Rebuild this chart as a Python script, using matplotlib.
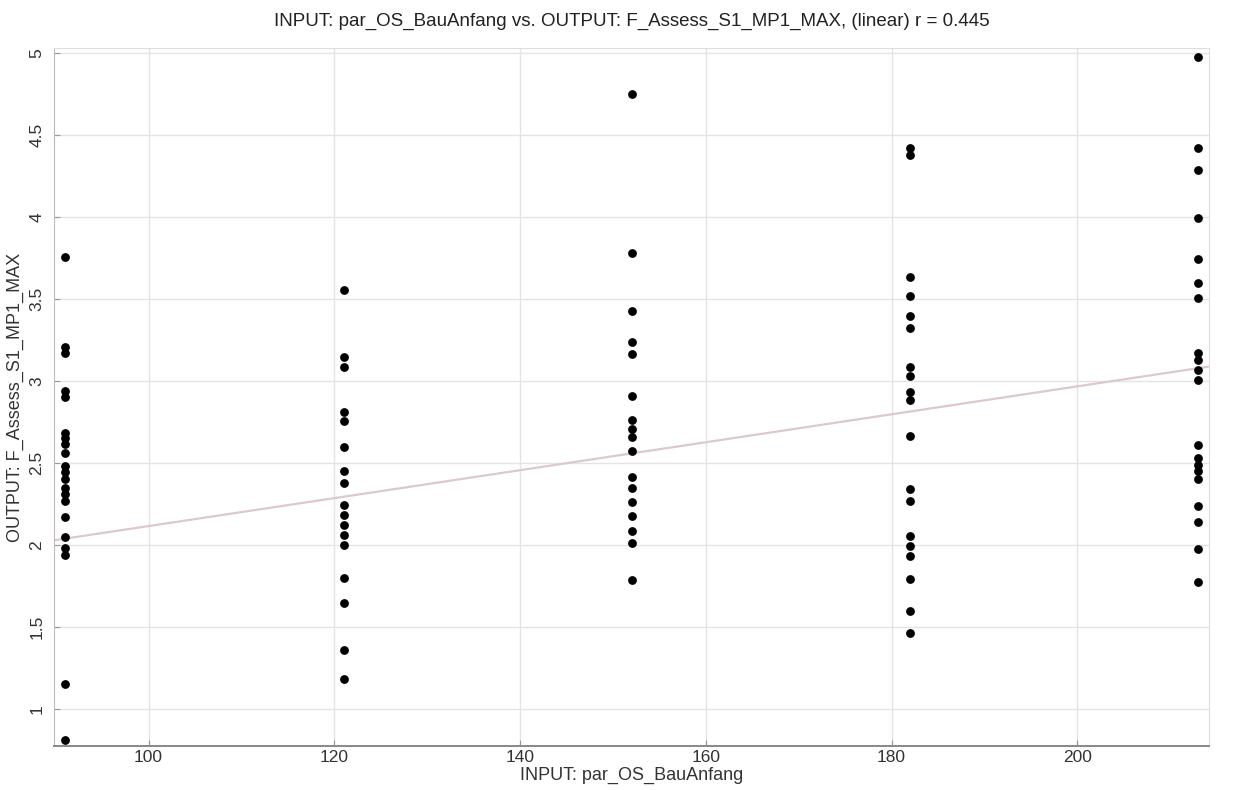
import matplotlib
matplotlib.use("Agg")
import matplotlib.pyplot as plt
import numpy as np

plt.rcParams['font.family'] = ['Liberation Sans', 'DejaVu Sans']

# Input values (day of year of construction start) and the output samples at each
bau_anfang = [91, 121, 152, 182, 213]
output_by_start = [
    [3.756, 3.207, 3.171, 2.939, 2.902, 2.683, 2.652, 2.616, 2.561, 2.482,
     2.445, 2.402, 2.348, 2.311, 2.268, 2.171, 2.049, 1.982, 1.939, 1.15, 0.81],
    [3.553, 3.148, 3.086, 2.809, 2.758, 2.598, 2.451, 2.375, 2.246, 2.184,
     2.123, 2.061, 2.000, 1.799, 1.648, 1.361, 1.180],
    [4.748, 3.782, 3.426, 3.235, 3.167, 2.906, 2.763, 2.710, 2.657, 2.572,
     2.413, 2.349, 2.264, 2.179, 2.084, 2.010, 1.787],
    [4.420, 4.380, 3.636, 3.517, 3.395, 3.322, 3.086, 3.029, 2.935, 2.883,
     2.667, 2.339, 2.270, 2.056, 1.994, 1.931, 1.795, 1.596, 1.460],
    [4.976, 4.420, 4.287, 3.994, 3.744, 3.598, 3.506, 3.171, 3.128, 3.067,
     3.006, 2.610, 2.530, 2.490, 2.450, 2.400, 2.238, 2.140, 1.976, 1.774],
]

# Linear fit coefficients and correlation shown in the title
fit_slope = 0.00852
fit_intercept = 1.263
r_value = 0.445

x_ticks = [100, 120, 140, 160, 180, 200]
y_ticks = [1, 1.5, 2, 2.5, 3, 3.5, 4, 4.5, 5]
y_tick_labels = ['1', '1.5', '2', '2.5', '3', '3.5', '4', '4.5', '5']

fig = plt.figure(figsize=(12.38, 7.90), dpi=100)
ax = fig.add_axes([0.0436, 0.0557, 0.933, 0.8835])

xs, ys = [], []
for xv, vals in zip(bau_anfang, output_by_start):
    xs.extend([xv] * len(vals))
    ys.extend(vals)

ax.scatter(xs, ys, s=40, color='black', zorder=3, linewidths=0)

xlim = (89.82, 214.18)
ax.set_xlim(*xlim)
ax.set_ylim(0.774, 5.03)

line_x = np.array(xlim)
ax.plot(line_x, fit_intercept + fit_slope * line_x, color='#dcc9cc', lw=1.6, zorder=2)

ax.set_xticks(x_ticks)
ax.set_xticklabels([str(t) for t in x_ticks], fontsize=12.5, color='#333333')
ax.set_yticks(y_ticks)
ax.set_yticklabels(y_tick_labels, fontsize=12.5, rotation=90, va='center', color='#333333')

ax.grid(True, color='#e4e4e4', lw=1.0, zorder=0)
ax.set_axisbelow(True)
ax.tick_params(direction='in', length=4, color='#999999')
ax.tick_params(axis='x', pad=3)
ax.tick_params(axis='y', pad=7)

for side in ['top', 'right']:
    ax.spines[side].set_color('#dddddd')
ax.spines['left'].set_color('#bbbbbb')
ax.spines['bottom'].set_color('#888888')
ax.spines['bottom'].set_linewidth(1.4)

ax.set_title(f'INPUT: par_OS_BauAnfang vs. OUTPUT: F_Assess_S1_MP1_MAX, (linear) r = {r_value:.3f}',
             fontsize=13.5, color='#222222', pad=16)
ax.set_xlabel('INPUT: par_OS_BauAnfang', fontsize=13, color='#333333', labelpad=1)
ax.set_ylabel('OUTPUT: F_Assess_S1_MP1_MAX', fontsize=13, color='#333333', labelpad=4)

fig.savefig('out.png', dpi=100, facecolor='white')
